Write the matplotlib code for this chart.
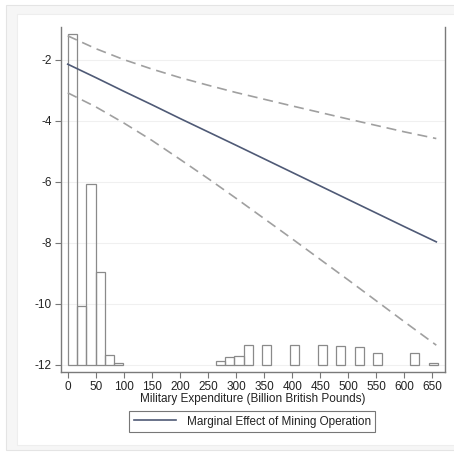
import matplotlib
matplotlib.use("Agg")
import matplotlib.pyplot as plt
from matplotlib.patches import Rectangle

plt.rcParams["font.family"] = ["Liberation Sans", "DejaVu Sans"]
plt.rcParams["font.size"] = 8.5

# Marginal effect line + 95% band
me_x = [0, 50, 100, 150, 200, 250, 300, 400, 500, 600, 657]
me_mid = [-2.14, -2.58, -3.03, -3.47, -3.92, -4.36, -4.80, -5.69, -6.58, -7.47, -7.97]
me_upper = [-1.21, -1.63, -1.99, -2.30, -2.58, -2.83, -3.07, -3.51, -3.94, -4.36, -4.58]
me_lower = [-3.08, -3.54, -4.07, -4.64, -5.26, -5.89, -6.54, -7.87, -9.22, -10.59, -11.36]

# Histogram of military expenditure, drawn on the y scale from the -12 baseline
hist_left = [0, 16.5, 33, 49.5, 66, 82.5, 264, 280.5, 297, 313.5,
             346.5, 396, 445.5, 478.5, 511.5, 544.5, 610.5, 643.5]
hist_top = [-1.15, -10.07, -6.06, -8.95, -11.69, -11.93, -11.88, -11.75, -11.70, -11.37,
            -11.37, -11.37, -11.37, -11.40, -11.43, -11.62, -11.63, -11.96]
hist_width = 16.5
hist_base = -12

xticks = list(range(0, 651, 50))
yticks = [-2, -4, -6, -8, -10, -12]

fig = plt.figure(figsize=(4.54, 4.55), dpi=100)

# Stata-like outer/inner frames
fig.patches.append(Rectangle((6 / 454, 1 - 450 / 455), 1.0, 445 / 455, transform=fig.transFigure,
                             facecolor="#f6f6f6", edgecolor="#e4e4e4", linewidth=0.8, zorder=-2))
fig.patches.append(Rectangle((17 / 454, 1 - 445 / 455), 1.0, 431 / 455, transform=fig.transFigure,
                             facecolor="white", edgecolor="#eeeeee", linewidth=0.8, zorder=-1))

ax = fig.add_axes([61 / 454, 83 / 455, 384 / 454, 345 / 455])
ax.set_facecolor("none")

heights = [t - hist_base for t in hist_top]
ax.bar(hist_left, heights, width=hist_width, bottom=hist_base, align="edge",
       facecolor="none", edgecolor="#8a8a8a", linewidth=0.9, zorder=2)

ax.plot(me_x, me_upper, color="#a0a0a0", linewidth=1.2, linestyle=(0, (6, 3.5)), zorder=3)
ax.plot(me_x, me_lower, color="#a0a0a0", linewidth=1.2, linestyle=(0, (6, 3.5)), zorder=3)
line_mid, = ax.plot(me_x, me_mid, color="#4f5a76", linewidth=1.2, zorder=4,
                    label="Marginal Effect of Mining Operation")

ax.set_xlim(-12, 672.5)
ax.set_ylim(-12.24, -0.92)
ax.set_xticks(xticks)
ax.set_yticks(yticks)
ax.set_yticklabels([str(v) for v in yticks])
ax.grid(axis="y", color="#f0f0f0", linewidth=0.8, zorder=0)
ax.tick_params(direction="out", length=4, width=0.8, color="#777777", labelcolor="#222222", pad=2.5)

for side in ["left", "bottom", "right"]:
    ax.spines[side].set_color("#7a7a7a")
    ax.spines[side].set_linewidth(1.0)
ax.spines["top"].set_visible(False)

ax.set_xlabel("Military Expenditure (Billion British Pounds)", color="#222222", labelpad=0)

leg = fig.legend(handles=[line_mid], loc="center", bbox_to_anchor=(252.3 / 454, 1 - 421.5 / 455),
                 frameon=True, fancybox=False, handlelength=3.6, handletextpad=0.85,
                 borderpad=0.4, fontsize=8.5)
leg.get_frame().set_edgecolor("#555555")
leg.get_frame().set_linewidth(0.8)
for t in leg.get_texts():
    t.set_color("#222222")

fig.savefig("out.png", dpi=100)
